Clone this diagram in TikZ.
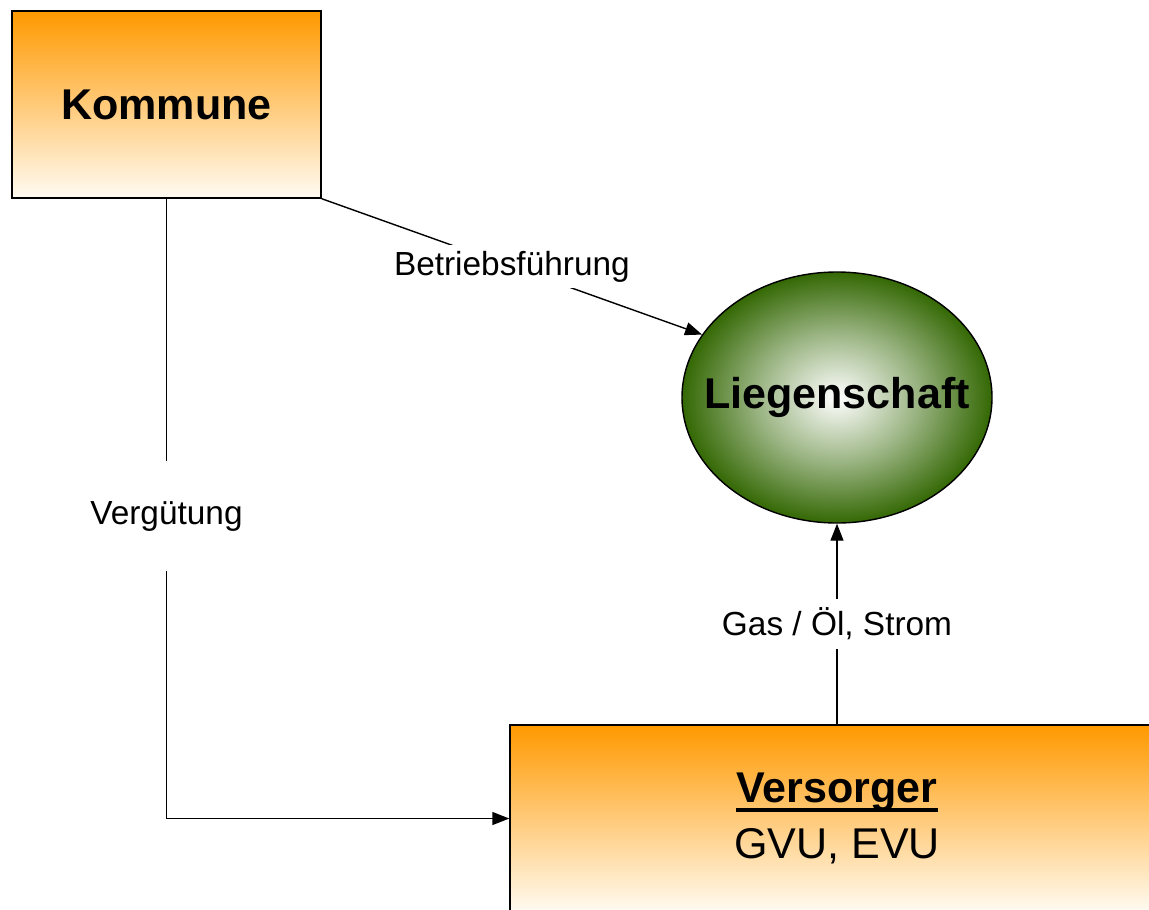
\documentclass[tikz,border=0pt]{standalone}
\usepackage{fontspec}
\setmainfont{Liberation Sans}
\usepackage{tikz}
\usetikzlibrary{shapes.geometric, arrows.meta, positioning}
\definecolor{boxorange}{RGB}{255, 153, 0}
\definecolor{boxlight}{RGB}{255, 251, 242}
\definecolor{estategreen}{RGB}{52, 104, 4}
\pgfdeclareradialshading{estate}{\pgfpoint{0bp}{0bp}}{color(0bp)=(white); color(13bp)=(estategreen!50); color(25bp)=(estategreen); color(50bp)=(estategreen)}
\newcommand{\thickul}[1]{\setbox0\hbox{#1}\rlap{\rule[-5pt]{\wd0}{2.2pt}}\box0}

\begin{document}
\begin{tikzpicture}[
    box/.style={rectangle, draw, line width=0.8pt, top color=boxorange, bottom color=boxlight, align=center, font=\fontsize{24.5}{31.5}\selectfont},
    arrow/.style={-{Triangle[length=3.4mm, width=2.6mm]}, line width=0.8pt},
    lbl/.style={fill=white, font=\fontsize{19}{22}\selectfont}
]
    \useasboundingbox (0,0) rectangle (22.98,-18.18);

    % Akteure
    \node[box, minimum width=6.18cm, minimum height=3.74cm] (kommune) at (3.33,-2.09) {\textbf{Kommune}};
    \node[ellipse, draw, line width=0.8pt, inner sep=0pt, shading=estate, minimum width=6.2cm, minimum height=5.02cm, font=\fontsize{24.5}{30}\selectfont] (liegen) at (16.74,-7.95) {\makebox[0pt]{\textbf{Liegenschaft}}};
    \node[box, minimum width=13.08cm, minimum height=3.74cm] (versorger) at (16.74,-16.37) {\thickul{\textbf{Versorger}}\\GVU, EVU};

    % Beziehungen
    \draw[arrow] (kommune.south east) -- node[lbl] {Betriebsführung} (liegen.155);
    \draw[arrow] (versorger.north) -- node[lbl, minimum height=1cm] {Gas / Öl, Strom} (liegen.south);
    \draw[arrow] (kommune.south) |- node[lbl, pos=0.256, minimum height=2.2cm] {Vergütung} (versorger.west);
\end{tikzpicture}
\end{document}
